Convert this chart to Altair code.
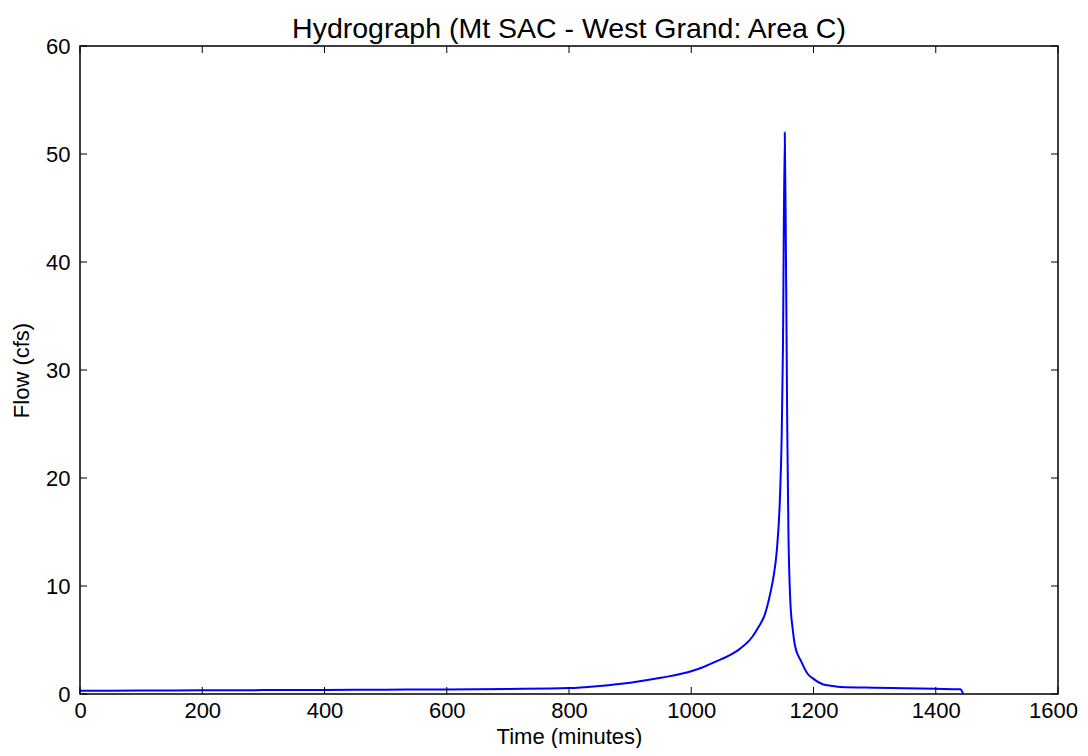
import altair as alt
import pandas as pd

time_min = [0, 100, 200, 300, 400, 500, 600, 700, 800, 850, 900, 950, 1000,
            1020, 1040, 1060, 1080, 1100, 1110, 1120, 1130, 1135, 1140, 1145,
            1148, 1150, 1153, 1155, 1157, 1159, 1162, 1166, 1170, 1180, 1190,
            1200, 1215, 1230, 1245, 1300, 1350, 1400, 1440, 1445]
flow_cfs = [0.30, 0.32, 0.34, 0.36, 0.38, 0.40, 0.42, 0.47, 0.55, 0.75, 1.05,
            1.5, 2.1, 2.5, 3.0, 3.5, 4.2, 5.3, 6.2, 7.3, 9.5, 11.0, 13.3, 18.0,
            24.0, 32.0, 52.0, 40.0, 25.0, 14.9, 8.7, 6.0, 4.4, 3.0, 1.9, 1.4,
            0.9, 0.75, 0.65, 0.58, 0.53, 0.48, 0.43, 0.0]
x_ticks = [0, 200, 400, 600, 800, 1000, 1200, 1400, 1600]
y_ticks = [0, 10, 20, 30, 40, 50, 60]

W, H = 978, 648
TICK = 7
FONT = "Liberation Sans"

df = pd.DataFrame({"t": time_min, "q": flow_cfs})
xt = pd.DataFrame({"t": x_ticks})
yt = pd.DataFrame({"q": y_ticks})

xs = alt.Scale(domain=[0, 1600], nice=False, zero=False)
ys = alt.Scale(domain=[0, 60], nice=False)
xaxis = alt.Axis(values=x_ticks, title="Time (minutes)", grid=False, ticks=False,
                 domain=False, labelPadding=6, titlePadding=5, format="d",
                 labelFlush=False, labelOverlap=False,
                 labelOffset={"condition": {"test": "datum.value >= 1600", "value": -5},
                              "value": 0})
yaxis = alt.Axis(values=y_ticks, title="Flow (cfs)", grid=False, ticks=False,
                 domain=False, labelPadding=10, titlePadding=12, format="d",
                 labelFlush=False, labelOverlap=False)
X = alt.X("t:Q", scale=xs, axis=xaxis)
Y = alt.Y("q:Q", scale=ys, axis=yaxis)

line = alt.Chart(df).mark_line(color="#0000ff", strokeWidth=2,
                               interpolate="monotone").encode(x=X, y=Y)

bot = alt.Chart(xt).mark_rule(color="black").encode(
    x=X, y=alt.value(H), y2=alt.value(H - TICK))
top = alt.Chart(xt).mark_rule(color="black").encode(
    x=X, y=alt.value(0), y2=alt.value(TICK))
left = alt.Chart(yt).mark_rule(color="black").encode(
    y=Y, x=alt.value(0), x2=alt.value(TICK))
right = alt.Chart(yt).mark_rule(color="black").encode(
    y=Y, x=alt.value(W), x2=alt.value(W - TICK))

chart = alt.layer(line, bot, top, left, right).properties(
    width=W, height=H,
    title=alt.TitleParams("Hydrograph (Mt SAC - West Grand: Area C)", fontSize=28.5,
                          font=FONT, fontWeight="normal", color="black", offset=2,
                          dy=10),
    autosize=alt.AutoSizeParams(type="none"),
    padding={"left": 72, "top": 38, "right": 22, "bottom": 54},
).configure_view(stroke="black", strokeWidth=1.5).configure_axis(
    labelFont=FONT, titleFont=FONT, labelFontSize=22, titleFontSize=22,
    labelColor="black", titleColor="black", titleFontWeight="normal",
)

chart.save("out.html", embed_options={"renderer": "svg", "actions": False})
